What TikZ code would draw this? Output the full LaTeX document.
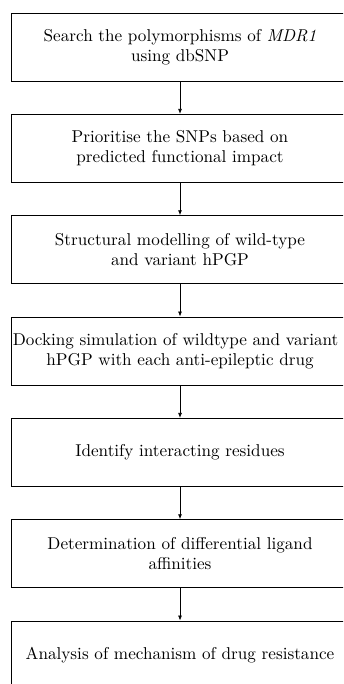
\documentclass[tikz,border=0pt]{standalone}
\usetikzlibrary{arrows.meta}
\tikzset{
  stepbox/.style={draw, line width=0.55pt, minimum width=206pt, minimum height=41.5pt,
    inner sep=0pt, align=center, font=\fontsize{10.45}{12.2}\selectfont},
  flow/.style={-{Latex[length=3pt,width=2.4pt]}, line width=0.45pt}
}
\begin{document}
\begin{tikzpicture}
\useasboundingbox (0,0) rectangle (209.15pt,-417.07pt);
\clip (0,0) rectangle (209.15pt,-417.07pt);
\node[stepbox] (s1) at (109.76pt,-28.66pt) {Search the polymorphisms of \textit{MDR1}\\using dbSNP};
\node[stepbox] (s2) at (109.76pt,-90.45pt) {Prioritise the SNPs based on\\predicted functional impact};
\node[stepbox] (s3) at (109.76pt,-152.24pt) {Structural modelling of wild-type\\and variant hPGP};
% the long first line sits slightly left of centre
\node[stepbox] (s4) at (109.76pt,-214.03pt) {\hspace*{-5.4pt}Docking simulation of wildtype and variant\\hPGP with each anti-epileptic drug};
\node[stepbox] (s5) at (109.76pt,-275.82pt) {Identify interacting residues};
\node[stepbox] (s6) at (109.76pt,-337.61pt) {Determination of differential ligand\\affinities};
\node[stepbox] (s7) at (109.76pt,-399.40pt) {Analysis of mechanism of drug resistance};
\foreach \a/\b in {s1/s2,s2/s3,s3/s4,s4/s5,s5/s6,s6/s7}
  \draw[flow] (\a) -- (\b);
\end{tikzpicture}
\end{document}
